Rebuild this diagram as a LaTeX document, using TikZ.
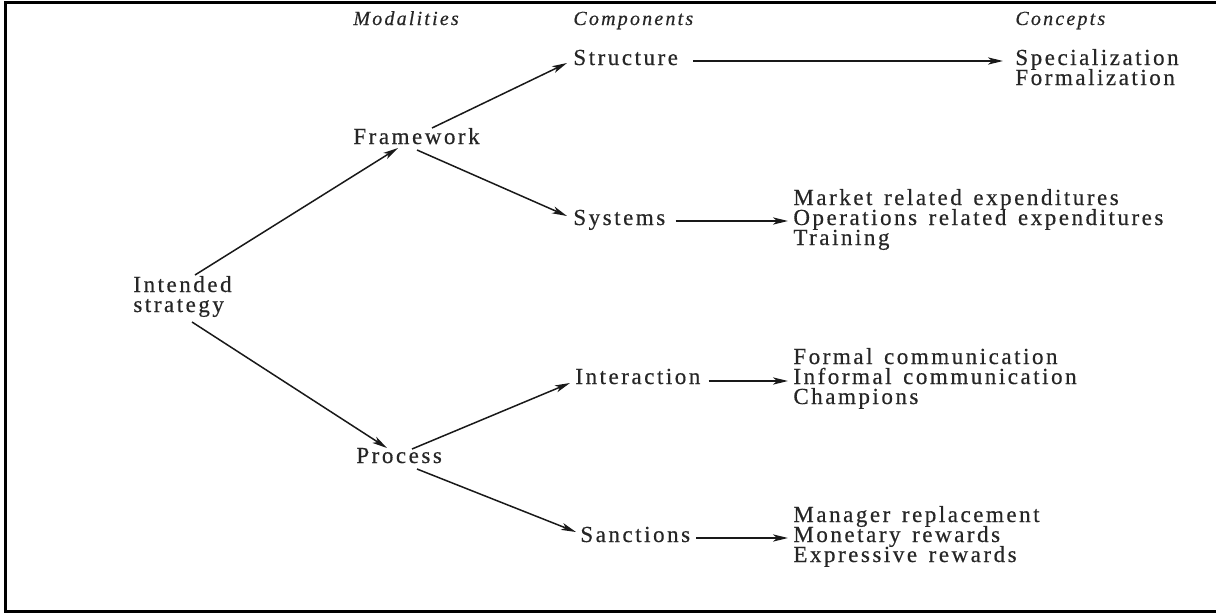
\documentclass[tikz,border=0pt]{standalone}
\usepackage{fontspec}
\setmainfont{Liberation Serif}[LetterSpace=11,WordSpace=1.4,FakeBold=0.5]
\usetikzlibrary{arrows.meta,calc}
\begin{document}
\begin{tikzpicture}[x=0.5pt,y=-0.5pt,
  lbl/.style={inner sep=0pt,anchor=base west,font=\fontsize{11.5pt}{10pt}\selectfont,text=black!85},
  head/.style={inner sep=0pt,anchor=base west,font=\fontsize{10pt}{10pt}\selectfont\itshape,text=black!85},
  arr/.style={draw=black!90,line width=0.75pt,-{Stealth[length=7.5pt,width=3.6pt,inset=2pt]}},
  borderline/.style={line width=1.3pt,draw=black}]
\useasboundingbox (0,0) rectangle (1216,616);
% open frame (top, left, bottom)
\draw[borderline] (1220,2.5) -- (5.5,2.5) -- (5.5,611.5) -- (1220,611.5);

% column headings
\node[head] (hmod)  at (353,25)  {Modalities};
\node[head] (hcomp) at (573,25)  {Components};
\node[head] (hcon)  at (1015,25) {Concepts};

% strategy and modalities
\node[lbl] (int)   at (133,292) {Intended};
\node[lbl] (strat) at (133,312) {strategy};
\node[lbl] (frame) at (353,144) {Framework};
\node[lbl] (proc)  at (356,463) {Process};

% components
\node[lbl] (struc) at (573,65)  {Structure};
\node[lbl] (sys)   at (573,225) {Systems};
\node[lbl] (inter) at (575,384) {Interaction};
\node[lbl] (sanc)  at (580,542) {Sanctions};

% concepts
\node[lbl] (spec)  at (1015,65) {Specialization};
\node[lbl] (form)  at (1015,85) {Formalization};
\node[lbl] (mkt)   at (793,205) {Market related expenditures};
\node[lbl] (ops)   at (793,225) {Operations related expenditures};
\node[lbl] (trn)   at (793,245) {Training};
\node[lbl] (fcom)  at (793,364) {Formal communication};
\node[lbl] (icom)  at (793,384) {Informal communication};
\node[lbl] (champ) at (793,404) {Champions};
\node[lbl] (mgr)   at (793,522) {Manager replacement};
\node[lbl] (mon)   at (793,542) {Monetary rewards};
\node[lbl] (expr)  at (793,562) {Expressive rewards};

% strategy to modalities
\draw[arr] ($(int.base west)+(62,-17)$) -- ($(frame.base west)+(45,4)$);
\draw[arr] ($(strat.base west)+(59,10)$) -- ($(proc.base west)+(31,-15)$);
% modalities to components
\draw[arr] ($(frame.base west)+(79,-16)$) -- ($(struc.base west)+(-6,-2)$);
\draw[arr] ($(frame.base west)+(64,6)$) -- ($(sys.base west)+(-6,-9)$);
\draw[arr] ($(proc.base west)+(56,-14)$) -- ($(inter.base west)+(-5,-1)$);
\draw[arr] ($(proc.base west)+(61,6)$) -- ($(sanc.base west)+(-4,-10)$);
% components to concepts
\draw[arr] ($(struc.base east)+(15,-4)$) -- ($(spec.base west)+(-12,-4)$);
\draw[arr] ($(sys.base east)+(10,-4)$) -- ($(ops.base west)+(-5,-4)$);
\draw[arr] ($(inter.base east)+(8,-3)$) -- ($(icom.base west)+(-5,-3)$);
\draw[arr] ($(sanc.base east)+(6,-4)$) -- ($(mon.base west)+(-5,-4)$);
\end{tikzpicture}
\end{document}
